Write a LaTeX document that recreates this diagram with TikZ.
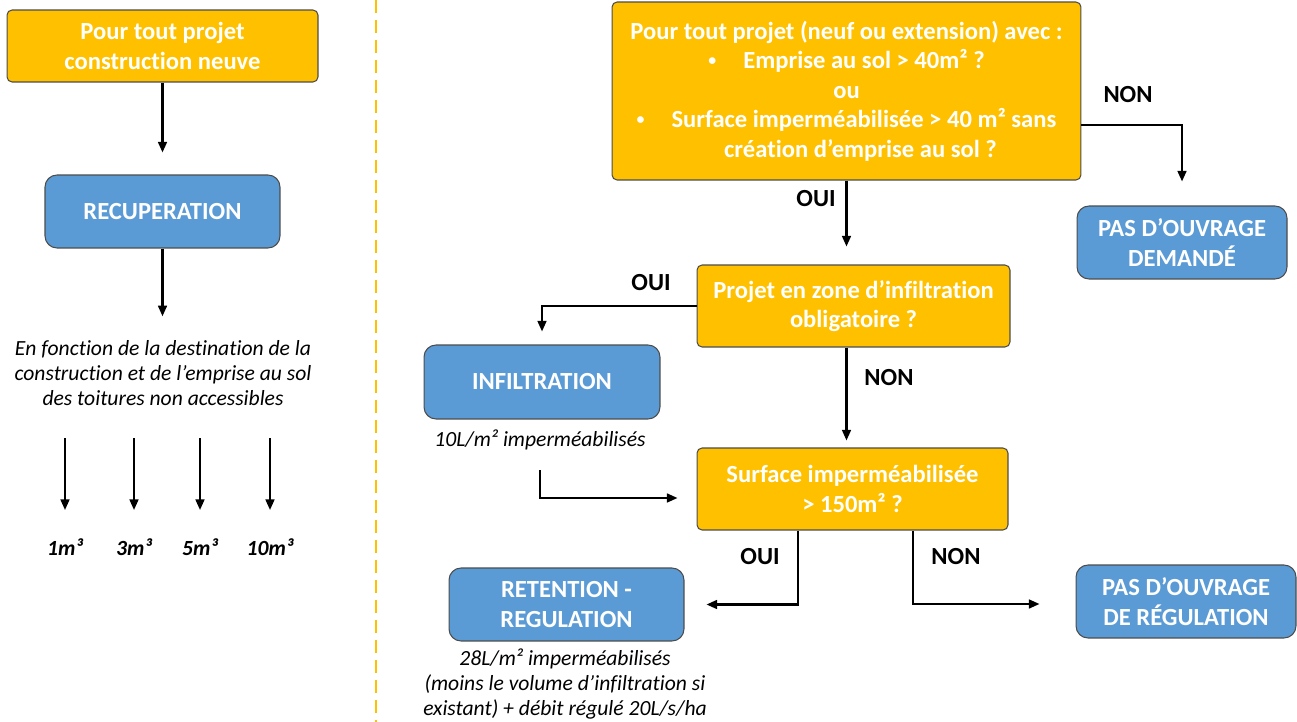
\documentclass[tikz,border=0pt]{standalone}
\usepackage{fontspec}
\setmainfont{Carlito}[Ligatures=NoCommon]
\usetikzlibrary{positioning}
\usetikzlibrary{arrows.meta}
\definecolor{jaune}{HTML}{FFC000}
\definecolor{bleu}{HTML}{5B9BD5}
\newcommand{\puce}{\raisebox{1.6pt}{\fontsize{9}{9}\selectfont•}\hspace{1.1em}}

\begin{document}
\begin{tikzpicture}
    [
      x = 0.02cm, y = -0.02cm,
      box/.style = {draw=black!70, line width=0.6pt, text=white, align=center,
          font=\bfseries\fontsize{14}{16.8}\selectfont, inner sep=0pt},
      question/.style = {box, fill=jaune, rounded corners=0.1cm},
      answer/.style = {box, fill=bleu, rounded corners=0.24cm},
      note/.style = {align=center, font=\itshape\fontsize{12.3}{14.2}\selectfont},
      choice/.style = {font=\bfseries\fontsize{14}{15}\selectfont},
      arrow/.style = {line width=1.2pt, -{Triangle[length=6pt, width=5pt]}},
    ]

    \useasboundingbox (0,0) rectangle (1297,722);

    \draw[jaune, line width=1.1pt, dash pattern=on 0.26cm off 0.14cm] (376,0) -- (376,722);

    \node[question, minimum width=6.22cm, minimum height=1.44cm] (neuve) at (162.5,46)
      {Pour tout projet\\construction neuve};
    \node[answer, minimum width=4.70cm, minimum height=1.46cm] (recup) at (162.5,211.5)
      {RECUPERATION};
    \node[note] (destination) at (163,373)
      {En fonction de la destination de la\\construction et de l’emprise au sol\\des toitures non accessibles};

    \draw[arrow, shorten >=0.44cm] (neuve.south) -- (recup.north);
    \draw[arrow, shorten >=0.36cm] (recup.south) -- (recup.south |- destination.north);

    \foreach \x/\v in {65/1, 134/3, 200/5, 270/10}
    {
      \node[note, font=\bfseries\itshape\fontsize{12.3}{12}\selectfont, inner sep=0pt] (vol\v) at (\x,547) {\v m³};
      \coordinate (haut\v) at (\x,438);
      \draw[arrow] (haut\v) -- (\x,510);
    }

    \node[question, minimum width=9.38cm, minimum height=3.56cm] (projet) at (846.5,91)
      {Pour tout projet (neuf ou extension) avec :\\
       \puce Emprise au sol > 40m² ?\\
       ou\\
       \puce Surface imperméabilisée > 40 m² sans\\
       \hspace*{0.56cm}création d’emprise au sol ?};
    \node[answer, minimum width=4.20cm, minimum height=1.46cm] (demande) at (1182,242.5)
      {PAS D’OUVRAGE\\DEMANDÉ};
    \node[question, minimum width=6.26cm, minimum height=1.64cm] (zone) at (853.5,306)
      {Projet en zone d’infiltration\\obligatoire ?};
    \node[answer, minimum width=4.72cm, minimum height=1.48cm] (infiltration) at (542,382)
      {INFILTRATION};
    \node[note] (infilnote) at (540,440) {10L/m² imperméabilisés};
    \node[question, minimum width=6.22cm, minimum height=1.64cm] (surface) at (852.5,489)
      {Surface imperméabilisée\\> 150m² ?};
    \node[answer, minimum width=4.70cm, minimum height=1.46cm] (retention) at (566.5,604.5)
      {RETENTION -\\REGULATION};
    \node[note] (retnote) at (565,684)
      {28L/m² imperméabilisés\\(moins le volume d’infiltration si\\existant) + débit régulé 20L/s/ha};
    \node[answer, minimum width=4.40cm, minimum height=1.46cm] (regulation) at (1186,601.5)
      {PAS D’OUVRAGE\\DE RÉGULATION};

    \coordinate (depart) at (540,470);

    \draw[arrow, shorten >=0.48cm] ([yshift=-0.68cm]projet.east) -| (demande.north);
    \draw[arrow, shorten >=0.36cm] (projet.south) -- (projet.south |- zone.north);
    \draw[arrow, shorten >=0.26cm] (zone.west) -| (infiltration.north);
    \draw[arrow, shorten >=0.14cm] (projet.south |- zone.south) -- (projet.south |- surface.north);
    \draw[arrow, shorten >=0.38cm] (depart) |- ([yshift=-0.18cm]surface.west);
    \draw[arrow, shorten >=0.44cm] ([xshift=-1.09cm]surface.south) |- (retention.east);
    \draw[arrow, shorten >=0.72cm] ([xshift=1.21cm]surface.south) |- ([yshift=-0.05cm]regulation.west);

    \node[choice] (non1) at (1128,95) {NON};
    \node[choice] (oui1) at (816,199) {OUI};
    \node[choice] (oui2) at (651,283) {OUI};
    \node[choice] (non2) at (889,378) {NON};
    \node[choice] (oui3) at (760,557) {OUI};
    \node[choice] (non3) at (956,557) {NON};

  \end{tikzpicture}
\end{document}
